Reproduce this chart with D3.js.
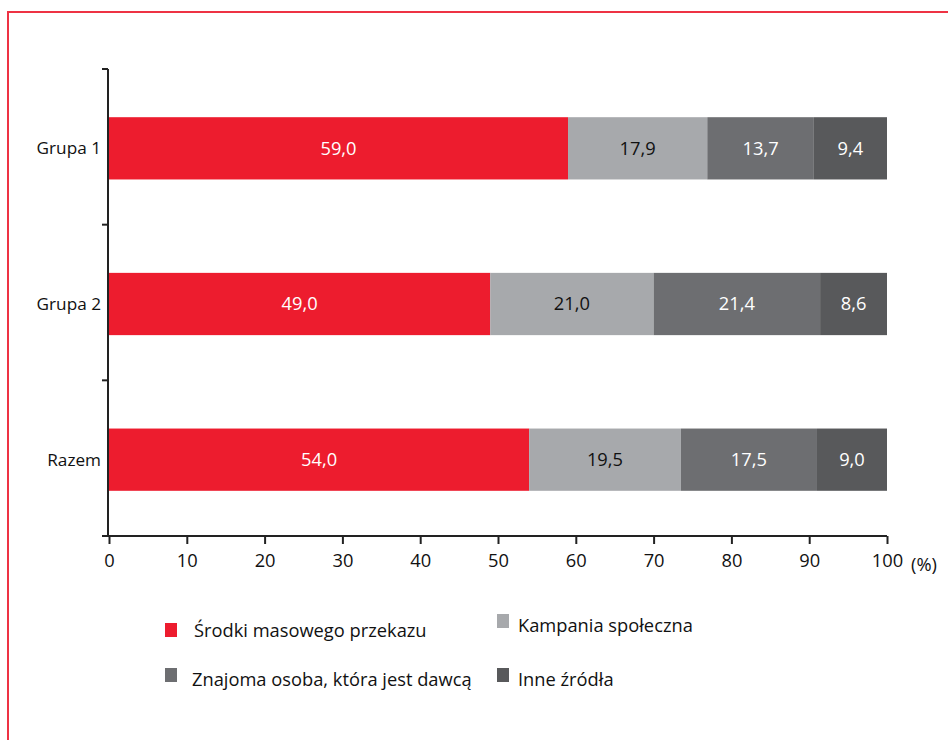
<!DOCTYPE html>
<html><head><meta charset="utf-8">
<script src="https://cdn.jsdelivr.net/npm/d3@7"></script>
<style>body{margin:0;background:#fff}svg{display:block}text{font-family:"Open Sans","Noto Sans",sans-serif}</style>
</head><body><svg id="c" width="948" height="740"></svg>
<script>
const categories = ["Grupa 1", "Grupa 2", "Razem"];
const seriesNames = ["Środki masowego przekazu", "Kampania społeczna", "Znajoma osoba, która jest dawcą", "Inne źródła"];
const media = [59.0, 49.0, 54.0];
const kampania = [17.9, 21.0, 19.5];
const znajoma = [13.7, 21.4, 17.5];
const inne = [9.4, 8.6, 9.0];
const xTicks = [0, 10, 20, 30, 40, 50, 60, 70, 80, 90, 100];
const colors = ["#ED1C2E", "#A7A9AC", "#6D6E71", "#58595B"];
const labelColors = ["#fff", "#111", "#fff", "#fff"];
const FS = 18.3;

const svg = d3.select("#c");
svg.append("path").attr("d", "M8,740V12H948").attr("fill", "none").attr("stroke", "#EE3344").attr("stroke-width", 2);

const x = d3.scaleLinear().domain([0, 100]).range([109, 887]);
const y = d3.scaleBand().domain(categories).range([70.5, 537.5]).paddingInner(0.6).paddingOuter(0.3);

const seriesVals = [media, kampania, znajoma, inne];
const rows = categories.map((c, i) => {
  const o = {cat: c};
  seriesNames.forEach((s, j) => o[s] = seriesVals[j][i]);
  return o;
});
const stack = d3.stack().keys(seriesNames)(rows);

const g = svg.append("g");
stack.forEach((layer, j) => {
  g.selectAll(null).data(layer).enter().append("rect")
    .attr("x", d => x(d[0])).attr("width", d => x(d[1]) - x(d[0]))
    .attr("y", d => y(d.data.cat)).attr("height", y.bandwidth())
    .attr("fill", colors[j]);
  g.selectAll(null).data(layer).enter().append("text")
    .attr("x", d => (x(d[0]) + x(d[1])) / 2)
    .attr("y", d => y(d.data.cat) + y.bandwidth() / 2)
    .attr("dy", "0.35em").attr("text-anchor", "middle")
    .attr("font-size", FS).attr("fill", labelColors[j])
    .text(d => d3.format(".1f")(d[1] - d[0]).replace(".", ","));
});

// y axis
const step = (536 - 69) / 3;
const yBounds = [0, 1, 2].map(i => 69 + i * step);
svg.append("line").attr("x1", 108).attr("x2", 108).attr("y1", 69).attr("y2", 536).attr("stroke", "#222").attr("stroke-width", 2);
svg.selectAll(null).data(yBounds).enter().append("line")
  .attr("x1", 102).attr("x2", 108).attr("y1", d => d).attr("y2", d => d).attr("stroke", "#222").attr("stroke-width", 2);
svg.selectAll(null).data(categories).enter().append("text")
  .attr("x", 101).attr("y", d => y(d) + y.bandwidth() / 2).attr("dy", "0.35em")
  .attr("text-anchor", "end").attr("font-size", 17.2).attr("fill", "#111").text(d => d);

// x axis
const xa = svg.append("g").attr("transform", "translate(0,536)")
  .call(d3.axisBottom(x).tickValues(xTicks).tickSize(8).tickPadding(10).tickFormat(d => d));
xa.select(".domain").attr("d", "M102,0H887").attr("stroke", "#222").attr("stroke-width", 2);
xa.selectAll(".tick line").attr("stroke", "#222").attr("stroke-width", 2);
xa.selectAll(".tick text").attr("font-size", FS).attr("fill", "#111").attr("font-family", "'Open Sans','Noto Sans',sans-serif");
svg.append("text").attr("x", 911).attr("y", 571).attr("font-size", FS).attr("fill", "#111").text("(%)");

// legend
const legPos = [[165, 623, 194, 637], [497, 614, 518, 632], [165, 668, 192, 686], [497, 668, 518, 686]];
seriesNames.forEach((s, j) => {
  const p = legPos[j];
  svg.append("rect").attr("x", p[0]).attr("y", p[1]).attr("width", 12).attr("height", 14).attr("fill", colors[j]);
  svg.append("text").attr("x", p[2]).attr("y", p[3]).attr("font-size", FS).attr("fill", "#111").text(s);
});
</script></body></html>
